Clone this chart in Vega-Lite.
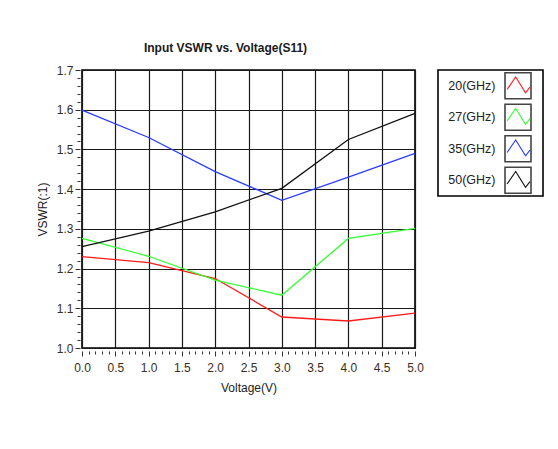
{
  "$schema": "https://vega.github.io/schema/vega-lite/v6.json",
  "padding": {"left": 35, "top": 41, "right": 5, "bottom": 5},
  "background": "white",
  "datasets": {
    "curves": [
      {"series": "20(GHz)", "voltage": 0, "vswr": 1.23},
      {"series": "20(GHz)", "voltage": 1, "vswr": 1.215},
      {"series": "20(GHz)", "voltage": 2, "vswr": 1.175},
      {"series": "20(GHz)", "voltage": 3, "vswr": 1.078},
      {"series": "20(GHz)", "voltage": 4, "vswr": 1.068},
      {"series": "20(GHz)", "voltage": 5, "vswr": 1.088},
      {"series": "27(GHz)", "voltage": 0, "vswr": 1.276},
      {"series": "27(GHz)", "voltage": 1, "vswr": 1.231},
      {"series": "27(GHz)", "voltage": 2, "vswr": 1.171},
      {"series": "27(GHz)", "voltage": 3, "vswr": 1.133},
      {"series": "27(GHz)", "voltage": 4, "vswr": 1.276},
      {"series": "27(GHz)", "voltage": 5, "vswr": 1.301},
      {"series": "35(GHz)", "voltage": 0, "vswr": 1.599},
      {"series": "35(GHz)", "voltage": 1, "vswr": 1.53},
      {"series": "35(GHz)", "voltage": 2, "vswr": 1.444},
      {"series": "35(GHz)", "voltage": 3, "vswr": 1.372},
      {"series": "35(GHz)", "voltage": 4, "vswr": 1.43},
      {"series": "35(GHz)", "voltage": 5, "vswr": 1.49},
      {"series": "50(GHz)", "voltage": 0, "vswr": 1.255},
      {"series": "50(GHz)", "voltage": 1, "vswr": 1.294},
      {"series": "50(GHz)", "voltage": 2, "vswr": 1.343},
      {"series": "50(GHz)", "voltage": 3, "vswr": 1.402},
      {"series": "50(GHz)", "voltage": 4, "vswr": 1.525},
      {"series": "50(GHz)", "voltage": 5, "vswr": 1.591}
    ],
    "keys": [
      {"series": "20(GHz)"},
      {"series": "27(GHz)"},
      {"series": "35(GHz)"},
      {"series": "50(GHz)"}
    ]
  },
  "hconcat": [
    {
      "width": 333,
      "height": 278,
      "title": {
        "text": "Input VSWR vs. Voltage(S11)",
        "font": "Liberation Sans, sans-serif",
        "fontSize": 12,
        "fontWeight": "bold",
        "color": "#1a1a1a",
        "dx": -23,
        "offset": 9
      },
      "data": {"name": "curves"},
      "mark": {"type": "line", "strokeWidth": 1.3},
      "encoding": {
        "x": {
          "field": "voltage",
          "type": "quantitative",
          "scale": {"domain": [0, 5], "nice": false, "zero": false},
          "axis": {
            "title": "Voltage(V)",
            "values": [0,0.1,0.2,0.3,0.4,0.5,0.6,0.7,0.8,0.9,1,1.1,1.2,1.3,1.4,1.5,1.6,1.7,1.8,1.9,2,2.1,2.2,2.3,2.4,2.5,2.6,2.7,2.8,2.9,3,3.1,3.2,3.3,3.4,3.5,3.6,3.7,3.8,3.9,4,4.1,4.2,4.3,4.4,4.5,4.6,4.7,4.8,4.9,5],
            "labelExpr": "abs(datum.value*2 - round(datum.value*2)) < 0.001 ? format(datum.value, '.1f') : ''",
            "tickSize": {"condition": {"test": "abs(datum.value*2 - round(datum.value*2)) < 0.001", "value": 5}, "value": 3},
            "gridOpacity": {"condition": {"test": "abs(datum.value*2 - round(datum.value*2)) < 0.001", "value": 1}, "value": 0},
            "offset": 3,
            "labelPadding": 6,
            "titlePadding": 9,
            "labelOverlap": false,
            "labelFlush": false
          }
        },
        "y": {
          "field": "vswr",
          "type": "quantitative",
          "scale": {"domain": [1.0, 1.7], "nice": false, "zero": false},
          "axis": {
            "title": "VSWR(:1)",
            "values": [1,1.02,1.04,1.06,1.08,1.1,1.12,1.14,1.16,1.18,1.2,1.22,1.24,1.26,1.28,1.3,1.32,1.34,1.36,1.38,1.4,1.42,1.44,1.46,1.48,1.5,1.52,1.54,1.56,1.58,1.6,1.62,1.64,1.66,1.68,1.7],
            "labelExpr": "abs(datum.value*10 - round(datum.value*10)) < 0.001 ? format(datum.value, '.1f') : ''",
            "tickSize": {"condition": {"test": "abs(datum.value*10 - round(datum.value*10)) < 0.001", "value": 5}, "value": 3},
            "gridOpacity": {"condition": {"test": "abs(datum.value*10 - round(datum.value*10)) < 0.001", "value": 1}, "value": 0},
            "offset": 2,
            "labelPadding": 2,
            "titlePadding": 7,
            "labelOverlap": false,
            "labelFlush": false
          }
        },
        "color": {
          "field": "series",
          "type": "nominal",
          "scale": {
            "domain": ["20(GHz)", "27(GHz)", "35(GHz)", "50(GHz)"],
            "range": ["#ff1a1a", "#33ff33", "#2a3cff", "#111111"]
          },
          "legend": null
        }
      }
    },
    {
      "width": 105,
      "height": 126,
      "data": {"name": "keys"},
      "encoding": {
        "y": {
          "field": "series",
          "type": "nominal",
          "scale": {"domain": ["20(GHz)", "27(GHz)", "35(GHz)", "50(GHz)"], "paddingInner": 0, "paddingOuter": 0},
          "axis": null
        }
      },
      "layer": [
        {
          "mark": {
            "type": "text",
            "align": "right",
            "baseline": "middle",
            "dx": 5,
            "font": "Liberation Sans, sans-serif",
            "fontSize": 12.5,
            "color": "#222222"
          },
          "encoding": {"text": {"field": "series"}}
        },
        {
          "mark": {
            "type": "point",
            "shape": "square",
            "size": 676,
            "filled": true,
            "fill": "white",
            "stroke": "#444444",
            "strokeWidth": 1.6,
            "opacity": 1,
            "xOffset": 27.5
          }
        },
        {
          "mark": {
            "type": "point",
            "shape": "M-0.84,0.29L-0.18,-0.68L0.58,0.55L0.92,0.11",
            "size": 676,
            "filled": false,
            "strokeWidth": 1.1,
            "opacity": 1,
            "xOffset": 27.5
          },
          "encoding": {
            "color": {
              "field": "series",
              "type": "nominal",
              "scale": {
                "domain": ["20(GHz)", "27(GHz)", "35(GHz)", "50(GHz)"],
                "range": ["#ff1a1a", "#33ff33", "#2a3cff", "#111111"]
              },
              "legend": null
            }
          }
        }
      ]
    }
  ],
  "spacing": 12,
  "config": {
    "view": {"stroke": "#000000", "strokeWidth": 1.6},
    "axis": {
      "domain": false,
      "grid": true,
      "gridColor": "#1a1a1a",
      "gridWidth": 1.2,
      "tickColor": "#333333",
      "tickWidth": 1,
      "labelColor": "#3a2e20",
      "labelFont": "Liberation Sans, sans-serif",
      "labelFontSize": 12,
      "titleFont": "Liberation Sans, sans-serif",
      "titleFontSize": 12,
      "titleFontWeight": "normal",
      "titleColor": "#222222"
    }
  }
}
